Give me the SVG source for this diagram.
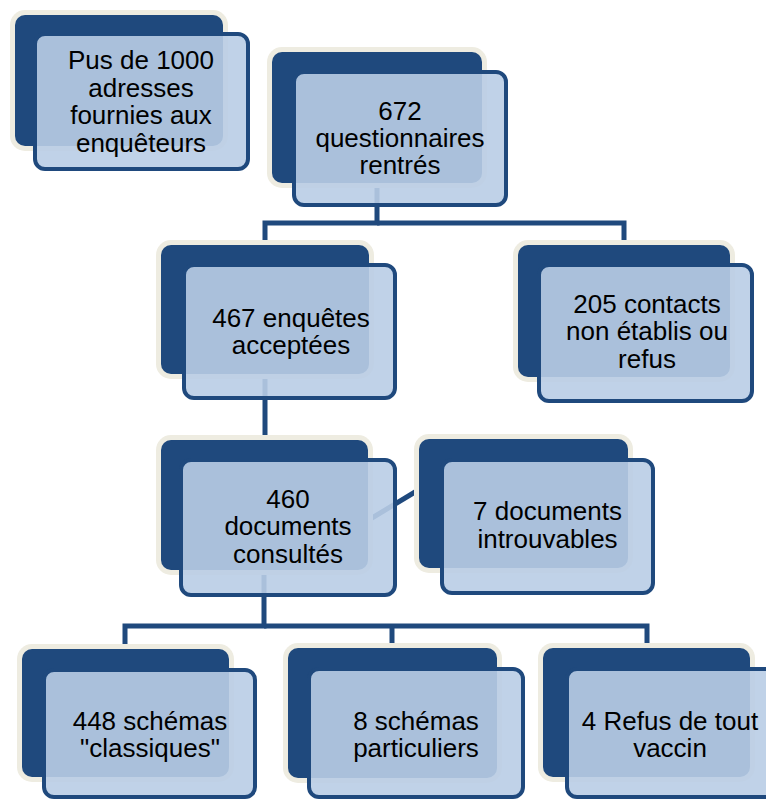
<svg xmlns="http://www.w3.org/2000/svg" width="766" height="800" viewBox="0 0 766 800">
<style>
.halo{fill:#eeece1}
.back{fill:#1f497d}
.front{fill:#b9cde5;fill-opacity:0.9;stroke:#1f497d;stroke-width:4}
.conn{fill:none;stroke:#1f497d;stroke-width:5}
text{font-family:"Liberation Sans",Arial,sans-serif;font-size:26px;fill:#000;text-anchor:middle}
</style>
<rect width="766" height="800" fill="#ffffff"/>
<g id="connectors">
<path class="conn" d="M377,183 V223 H265 V245"/>
<path class="conn" d="M377,223 H624 V245"/>
<path class="conn" d="M265,374 V440"/>
<path class="conn" d="M362,524 L425,486"/>
<path class="conn" d="M264,570 V626 H125 V649"/>
<path class="conn" d="M264,626 H647 V648"/>
<path class="conn" d="M392,626 V648"/>
</g>
<g id="n1">
<rect class="halo" x="10" y="10" width="218" height="141" rx="15"/>
<rect class="back" x="15" y="15" width="208" height="131" rx="10"/>
<rect class="front" x="35" y="34" width="213" height="135" rx="10"/>
<text x="141" y="68.5">Pus de 1000</text>
<text x="141" y="96.5">adresses</text>
<text x="141" y="124">fournies aux</text>
<text x="141" y="152">enquêteurs</text>
</g>
<g id="n2">
<rect class="halo" x="267" y="47" width="220" height="141" rx="15"/>
<rect class="back" x="272" y="52" width="210" height="131" rx="10"/>
<rect class="front" x="294" y="72" width="212" height="133" rx="10"/>
<text x="400" y="120">672</text>
<text x="400" y="147">questionnaires</text>
<text x="400" y="174">rentrés</text>
</g>
<g id="n3">
<rect class="halo" x="156" y="240" width="218" height="139" rx="15"/>
<rect class="back" x="161" y="245" width="208" height="129" rx="10"/>
<rect class="front" x="184" y="265" width="211" height="133" rx="10"/>
<text x="291" y="327">467 enquêtes</text>
<text x="291" y="354">acceptées</text>
</g>
<g id="n4">
<rect class="halo" x="513" y="240" width="222" height="142" rx="15"/>
<rect class="back" x="518" y="245" width="212" height="132" rx="10"/>
<rect class="front" x="539" y="265" width="213" height="136" rx="10"/>
<text x="647" y="313">205 contacts</text>
<text x="647" y="340">non établis ou</text>
<text x="647" y="368">refus</text>
</g>
<g id="n5">
<rect class="halo" x="156" y="435" width="217" height="140" rx="15"/>
<rect class="back" x="161" y="440" width="207" height="130" rx="10"/>
<rect class="front" x="181" y="460" width="214" height="135" rx="10"/>
<text x="288" y="508">460</text>
<text x="288" y="535">documents</text>
<text x="288" y="563">consultés</text>
</g>
<g id="n6">
<rect class="halo" x="414" y="434" width="219" height="139" rx="15"/>
<rect class="back" x="419" y="439" width="209" height="129" rx="10"/>
<rect class="front" x="442" y="460" width="211" height="133" rx="10"/>
<text x="547.5" y="520">7 documents</text>
<text x="547.5" y="548">introuvables</text>
</g>
<g id="n7">
<rect class="halo" x="17" y="644" width="217" height="138" rx="15"/>
<rect class="back" x="22" y="649" width="207" height="128" rx="10"/>
<rect class="front" x="44" y="670" width="211" height="127" rx="10"/>
<text x="150" y="730">448 schémas</text>
<text x="150" y="757">"classiques"</text>
</g>
<g id="n8">
<rect class="halo" x="283" y="643" width="219" height="140" rx="15"/>
<rect class="back" x="288" y="648" width="209" height="130" rx="10"/>
<rect class="front" x="309" y="669" width="214" height="128" rx="10"/>
<text x="416" y="730">8 schémas</text>
<text x="416" y="757">particuliers</text>
</g>
<g id="n9">
<rect class="halo" x="538" y="643" width="217" height="139" rx="15"/>
<rect class="back" x="543" y="648" width="207" height="129" rx="10"/>
<rect class="front" x="567" y="669" width="211" height="128" rx="10"/>
<text x="670" y="730">4 Refus de tout</text>
<text x="670" y="757">vaccin</text>
</g>
</svg>
